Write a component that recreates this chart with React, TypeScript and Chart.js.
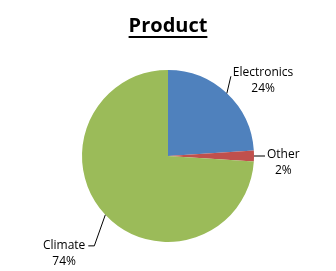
import React, { useEffect, useRef } from "react";
import { Chart, registerables } from "chart.js";

Chart.register(...registerables);

const categories = ["Electronics", "Other", "Climate"];
const values = [24, 2, 74];
const percentLabels = ["24%", "2%", "74%"];
const colors = ["#4F81BD", "#C0504D", "#9BBB59"];
const titleText = "Product";

// leader/label layout relative to the slice's outer mid point (style only)
const labelLayout = [
  { path: [[4, -17]], anchor: [6, -21], align: "left" },
  { path: [[11, 0]], anchor: [13, -1], align: "left" },
  { path: [[-11, 31], [-17, 31]], anchor: [-20, 31], align: "right" },
];

const labelPlugin = {
  id: "excelLabels",
  afterDraw(chart: any) {
    const ctx = chart.ctx;
    const meta = chart.getDatasetMeta(0);
    ctx.save();
    // title
    ctx.fillStyle = "#000";
    ctx.font = "bold 20px 'Open Sans'";
    ctx.textAlign = "center";
    ctx.textBaseline = "alphabetic";
    const tx = 168;
    const ty = 32;
    ctx.fillText(titleText, tx, ty);
    const tw = ctx.measureText(titleText).width;
    ctx.fillRect(tx - tw / 2, 36, tw, 2);

    ctx.font = "12px 'Open Sans'";
    ctx.strokeStyle = "#000";
    ctx.lineWidth = 1;
    meta.data.forEach((arc: any, i: number) => {
      const p = arc.getProps(["x", "y", "startAngle", "endAngle", "outerRadius"], true);
      const mid = (p.startAngle + p.endAngle) / 2;
      const ex = p.x + p.outerRadius * Math.cos(mid);
      const ey = p.y + p.outerRadius * Math.sin(mid);
      const lay = labelLayout[i];
      ctx.beginPath();
      ctx.moveTo(ex, ey);
      lay.path.forEach((pt: number[]) => ctx.lineTo(ex + pt[0], ey + pt[1]));
      ctx.stroke();
      const l1 = categories[i];
      const l2 = percentLabels[i];
      const w1 = ctx.measureText(l1).width;
      const ax = ex + lay.anchor[0];
      const ay = ey + lay.anchor[1];
      const cx = lay.align === "left" ? ax + w1 / 2 : ax - w1 / 2;
      ctx.textAlign = "center";
      ctx.textBaseline = "middle";
      ctx.fillText(l1, cx, ay);
      ctx.fillText(l2, cx, ay + 16);
    });
    ctx.restore();
  },
};

export default function App() {
  const ref = useRef<HTMLCanvasElement | null>(null);
  useEffect(() => {
    if (!ref.current) return;
    const chart = new Chart(ref.current, {
      type: "pie",
      data: {
        labels: categories,
        datasets: [
          {
            data: values,
            backgroundColor: colors,
            borderWidth: 0,
          },
        ],
      },
      options: {
        responsive: false,
        animation: false,
        layout: { padding: { top: 70, bottom: 29, left: 82, right: 82 } },
        plugins: {
          legend: { display: false },
          tooltip: { enabled: false },
          title: { display: false },
        },
      },
      plugins: [labelPlugin],
    });
    return () => chart.destroy();
  }, []);
  return (
    <div style={{ position: "absolute", left: 0, top: 0, width: 336, height: 271, background: "#fff" }}>
      <canvas ref={ref} width={336} height={271} />
    </div>
  );
}
